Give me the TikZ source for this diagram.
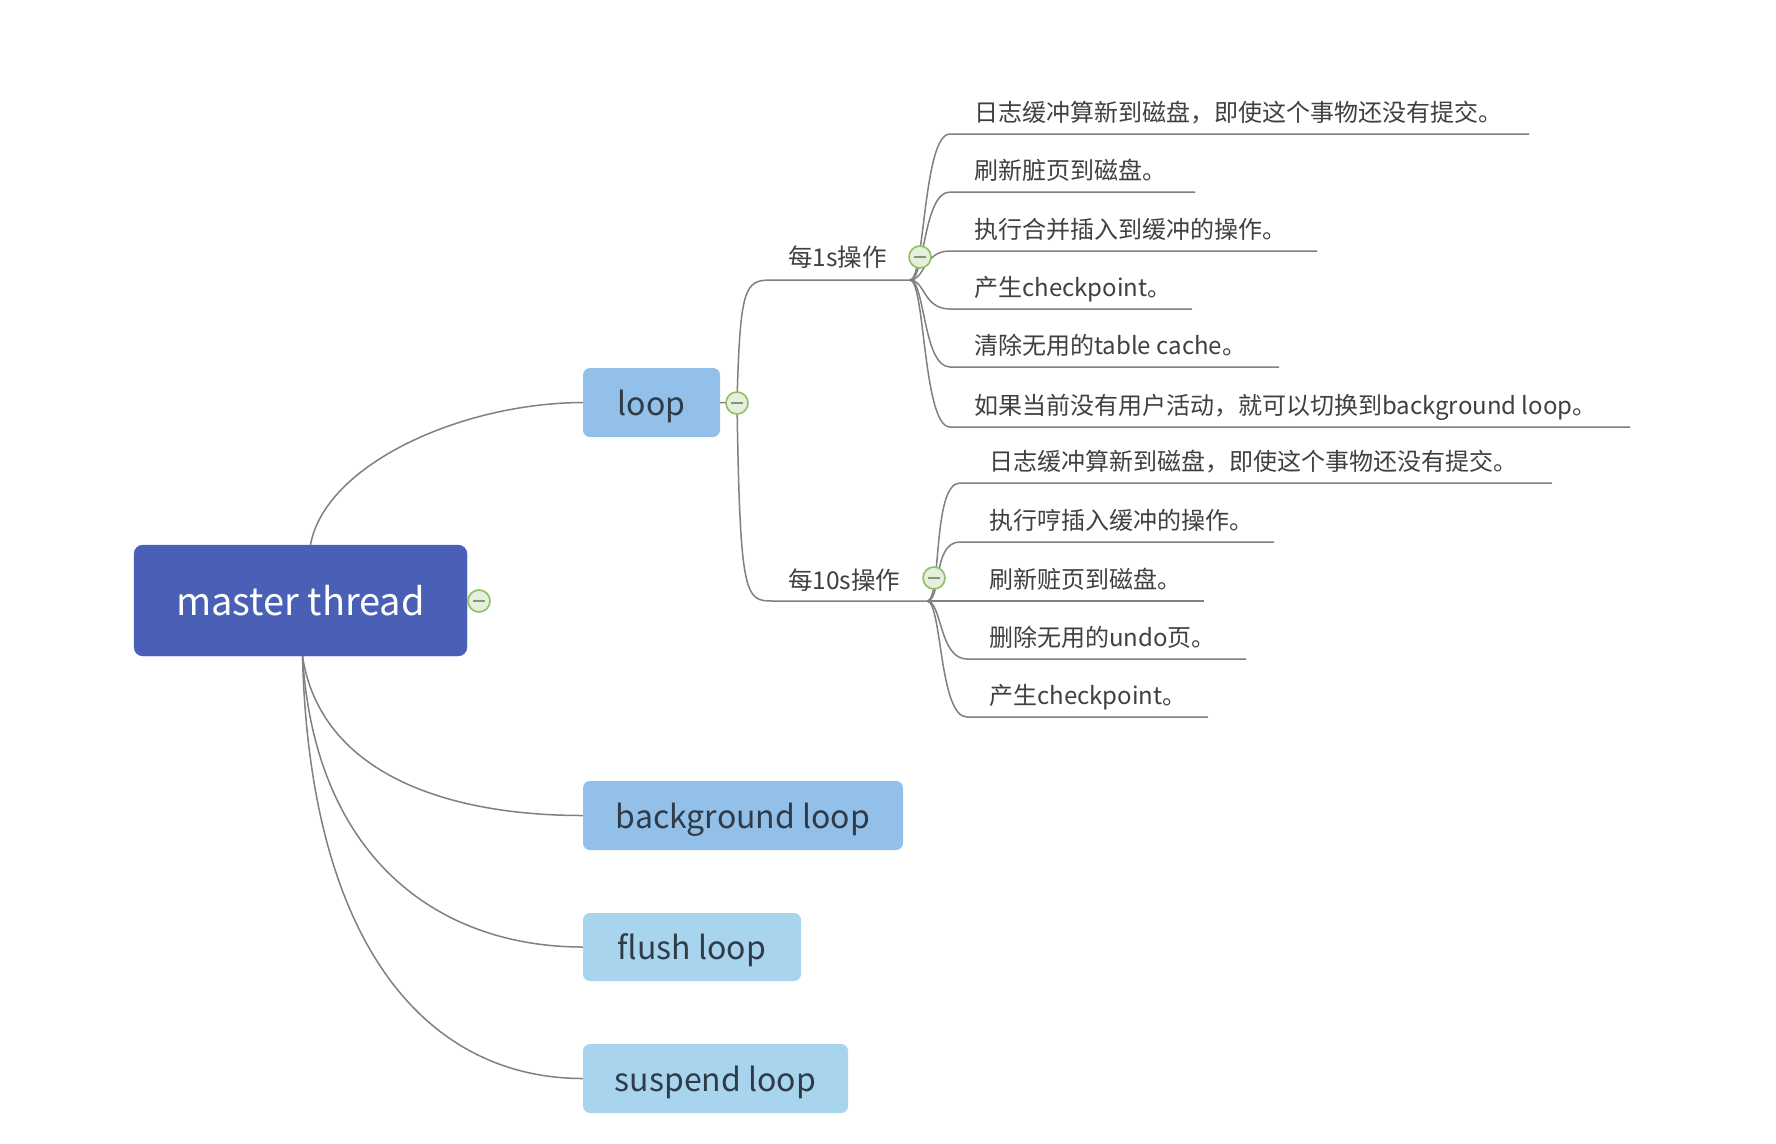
\documentclass[tikz,border=0pt]{standalone}
\usepackage{fontspec}
\setmainfont{Noto Sans CJK SC}
\usetikzlibrary{backgrounds}
\definecolor{mblue}{HTML}{4A60B7}
\definecolor{lblue}{HTML}{93C0E9}
\definecolor{pblue}{HTML}{A9D4EE}
\definecolor{boxtext}{HTML}{2F3B48}
\definecolor{childtext}{HTML}{404040}
\definecolor{conn}{HTML}{808080}
\definecolor{cgreen}{HTML}{8CC063}
\definecolor{cfill}{HTML}{E6EFDE}
\definecolor{cminus}{HTML}{7E9A70}
\tikzset{
  mainbox/.style={rounded corners=9pt, fill=mblue, draw=mblue, text=white, inner sep=0pt,
    minimum width=333pt, minimum height=111pt, text height=29pt, text depth=0pt,
    font=\fontsize{38}{44}\selectfont},
  subbox/.style={rounded corners=7pt, inner sep=0pt, text=boxtext,
    minimum height=69pt, text height=25pt, text depth=0pt, font=\fontsize{32}{38}\selectfont},
  childtxt/.style={inner sep=0pt, text=childtext, font=\fontsize{24}{28}\selectfont},
  labeltxt/.style={inner sep=0pt, text=childtext, font=\fontsize{24.5}{28}\selectfont},
  collapse/.style={circle, draw=cgreen, line width=1.6pt, fill=cfill, minimum size=22pt, inner sep=0pt,
    path picture={\draw[cminus, line width=1.5pt] ([xshift=-6pt]path picture bounding box.center) -- ([xshift=6pt]path picture bounding box.center);}},
  connector/.style={draw=conn, line width=1.5pt}
}
\begin{document}
\begin{tikzpicture}[x=1pt,y=-1pt]
\useasboundingbox (0,0) rectangle (1776,1143);

% main boxes
\node[mainbox] (master) at (300.5,600.5) {master thread};
\node[subbox, fill=lblue, minimum width=137pt] (loop) at (651.5,402.5) {loop};
\node[subbox, fill=lblue, minimum width=320pt] (bg) at (743,815.5) {background loop};
\node[subbox, fill=pblue, minimum width=218pt, minimum height=68pt] (flush) at (692,947) {flush loop};
\node[subbox, fill=pblue, minimum width=265pt] (susp) at (715.5,1078.5) {suspend loop};

% collapse markers
\node[collapse] (mc) at (479,601) {};
\node[collapse] (lc) at (737,403) {};
\node[collapse] (c1) at (920,257) {};
\node[collapse] (c10) at (934,578) {};

% branch labels
\node[labeltxt, anchor=base west] (l1) at (788,266) {每1s操作};
\node[labeltxt, anchor=base west] (l10) at (788,589) {每10s操作};

% branch points
\coordinate (b1) at (910,280);
\coordinate (b1h) at (772,280);
\coordinate (b10) at (927,601);
\coordinate (b10h) at (772,601);

% 1s children
\node[childtxt, anchor=base west] (s1) at (974,121) {日志缓冲算新到磁盘，即使这个事物还没有提交。};
\node[childtxt, anchor=base west] (s2) at (974,179) {刷新脏页到磁盘。};
\node[childtxt, anchor=base west] (s3) at (974,238) {执行合并插入到缓冲的操作。};
\node[childtxt, anchor=base west] (s4) at (974,296) {产生checkpoint。};
\node[childtxt, anchor=base west] (s5) at (974,354) {清除无用的table cache。};
\node[childtxt, anchor=base west] (s6) at (974,414) {如果当前没有用户活动，就可以切换到background loop。};
\coordinate (s1a) at (950,134); \coordinate (s1b) at (1529,134);
\coordinate (s2a) at (950,192); \coordinate (s2b) at (1195,192);
\coordinate (s3a) at (950,251); \coordinate (s3b) at (1317,251);
\coordinate (s4a) at (950,309); \coordinate (s4b) at (1192,309);
\coordinate (s5a) at (950,367); \coordinate (s5b) at (1279,367);
\coordinate (s6a) at (950,427); \coordinate (s6b) at (1630,427);

% 10s children
\node[childtxt, anchor=base west] (t1) at (989,470) {日志缓冲算新到磁盘，即使这个事物还没有提交。};
\node[childtxt, anchor=base west] (t2) at (989,529) {执行哼插入缓冲的操作。};
\node[childtxt, anchor=base west] (t3) at (989,588) {刷新赃页到磁盘。};
\node[childtxt, anchor=base west] (t4) at (989,646) {删除无用的undo页。};
\node[childtxt, anchor=base west] (t5) at (989,704) {产生checkpoint。};
\coordinate (t1a) at (960,483); \coordinate (t1b) at (1552,483);
\coordinate (t2a) at (960,542); \coordinate (t2b) at (1274,542);
\coordinate (t3b) at (1204,601);
\coordinate (t4a) at (967,659); \coordinate (t4b) at (1246,659);
\coordinate (t5a) at (967,717); \coordinate (t5b) at (1208,717);

\begin{pgfonlayer}{background}
\fill[white] (0,0) rectangle (1776,1143);
\path[connector] ([xshift=10pt]master.north) .. controls (325,465) and (460,403) .. (loop.west);
\path[connector] ([xshift=2pt]master.south) .. controls (320,770) and (440,815.5) .. (bg.west);
\path[connector] ([xshift=2pt]master.south) .. controls (315,860) and (440,947) .. (flush.west);
\path[connector] ([xshift=2pt]master.south) .. controls (310,950) and (430,1078.5) .. (susp.west);
\path[connector] (loop.east) -- (lc.center);
\path[connector] (lc.center) .. controls (740,285) and (745,280) .. (b1h) -- (b1);
\path[connector] (lc.center) .. controls (740,596) and (745,601) .. (b10h) -- (b10);
\foreach \i in {1,...,6}{
  \path[connector] (b1) .. controls +(15,0) and +(-27,0) .. (s\i a) -- (s\i b);
}
\foreach \i in {1,2,4,5}{
  \path[connector] (b10) .. controls +(15,0) and +(-28,0) .. (t\i a) -- (t\i b);
}
\path[connector] (b10) -- (t3b);
\end{pgfonlayer}
\end{tikzpicture}
\end{document}
